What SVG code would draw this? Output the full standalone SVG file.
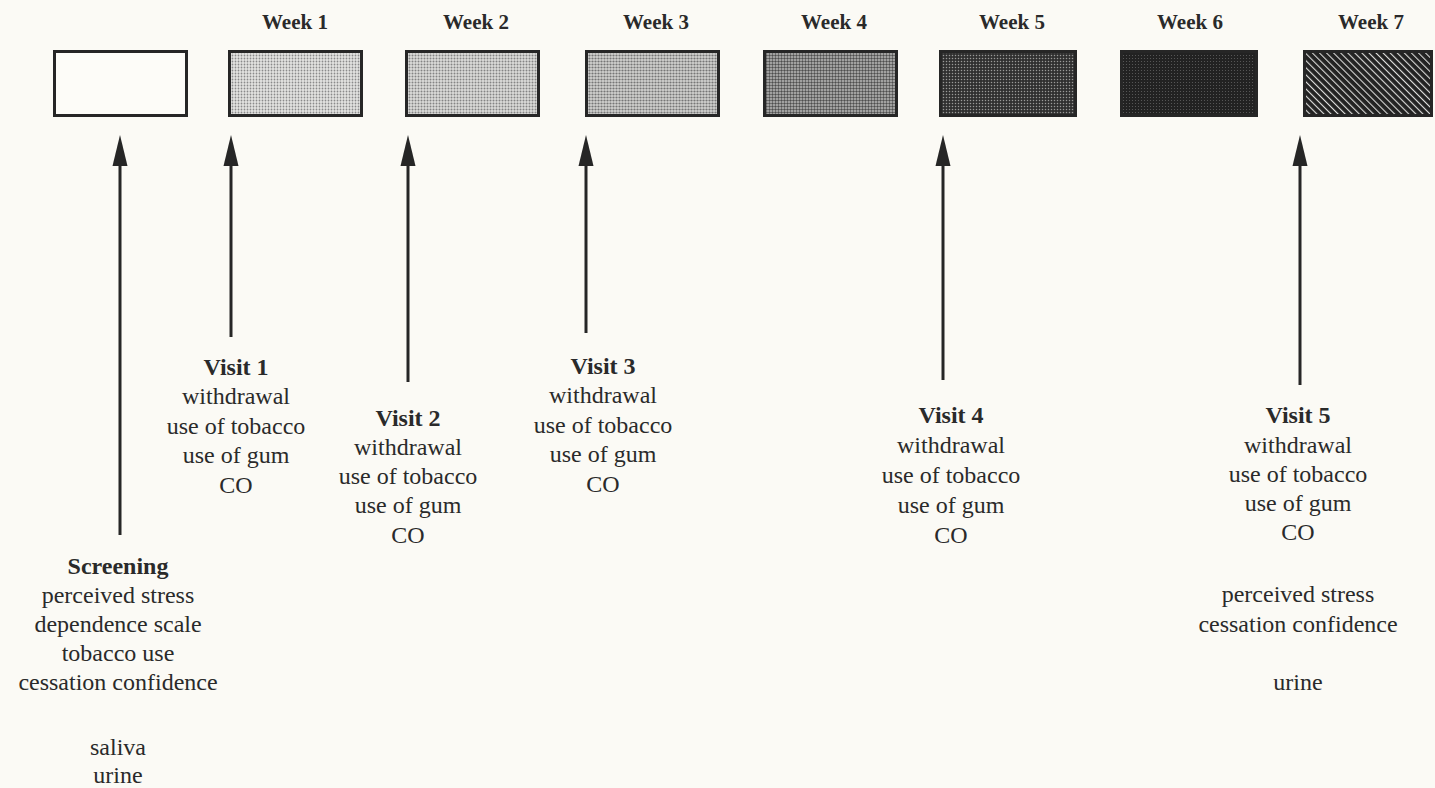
<svg xmlns="http://www.w3.org/2000/svg" width="1435" height="788" viewBox="0 0 1435 788">
<style>
.bx{stroke:#262626;stroke-width:3}
.wk{font-family:"Liberation Serif",serif;font-weight:bold;font-size:21px;fill:#2a2a2a;text-anchor:middle}
.t{font-family:"Liberation Serif",serif;font-size:24px;fill:#2a2a2a;text-anchor:middle}
.b{font-weight:bold}
.ar{stroke:#262626;stroke-width:3;fill:none;marker-end:url(#ah)}
</style>
<defs>
<marker id="ah" markerUnits="userSpaceOnUse" markerWidth="31" markerHeight="16" refX="0" refY="8" orient="auto" viewBox="0 0 31 16">
<path d="M0,0.5 L31,8 L0,15.5 z" fill="#262626"/>
</marker>
<pattern id="p1" width="3" height="3" patternUnits="userSpaceOnUse"><rect width="3" height="3" fill="#e4e4e2"/><circle cx="1.5" cy="1.5" r="0.9" fill="#8a8a8a"/></pattern>
<pattern id="p2" width="3" height="3" patternUnits="userSpaceOnUse"><rect width="3" height="3" fill="#dcdcda"/><circle cx="1.5" cy="1.5" r="1" fill="#848484"/></pattern>
<pattern id="p3" width="3" height="3" patternUnits="userSpaceOnUse"><rect width="3" height="3" fill="#d2d2d0"/><circle cx="1.5" cy="1.5" r="1.1" fill="#767676"/></pattern>
<pattern id="p4" width="3" height="3" patternUnits="userSpaceOnUse"><rect width="3" height="3" fill="#bdbdbb"/><circle cx="1.5" cy="1.5" r="1.2" fill="#4e4e4e"/></pattern>
<pattern id="p5" width="3" height="3" patternUnits="userSpaceOnUse"><rect width="3" height="3" fill="#303030"/><circle cx="1.5" cy="1.5" r="0.75" fill="#9a9a98"/></pattern>
<pattern id="p6" width="3" height="3" patternUnits="userSpaceOnUse"><rect width="3" height="3" fill="#222"/><circle cx="1.5" cy="1.5" r="0.55" fill="#5e5e5e"/></pattern>
<pattern id="p7" width="5" height="5" patternUnits="userSpaceOnUse" patternTransform="rotate(-45)"><rect width="5" height="5" fill="#222"/><rect x="0" y="0" width="1.1" height="5" fill="#dcdcda"/></pattern>
</defs>
<rect width="1435" height="788" fill="#fbfaf5"/>

<g id="week-labels">
<text class="wk" x="295" y="29">Week 1</text>
<text class="wk" x="476" y="29">Week 2</text>
<text class="wk" x="656" y="29">Week 3</text>
<text class="wk" x="834" y="29">Week 4</text>
<text class="wk" x="1012" y="29">Week 5</text>
<text class="wk" x="1190" y="29">Week 6</text>
<text class="wk" x="1371" y="29">Week 7</text>
</g>

<g id="box-screening"><rect class="bx" x="54.5" y="51.5" width="132" height="64" fill="#fdfcf8"/></g>
<g id="box-week1"><rect class="bx" x="229.5" y="51.5" width="132" height="64" fill="url(#p1)"/></g>
<g id="box-week2"><rect class="bx" x="406.5" y="51.5" width="132" height="64" fill="url(#p2)"/></g>
<g id="box-week3"><rect class="bx" x="586.5" y="51.5" width="132" height="64" fill="url(#p3)"/></g>
<g id="box-week4"><rect class="bx" x="764.5" y="51.5" width="132" height="64" fill="url(#p4)"/></g>
<g id="box-week5"><rect class="bx" x="940.5" y="51.5" width="135" height="64" fill="url(#p5)"/></g>
<g id="box-week6"><rect class="bx" x="1121.5" y="51.5" width="135" height="64" fill="url(#p6)"/></g>
<g id="box-week7"><rect class="bx" x="1304.5" y="51.5" width="127" height="64" fill="url(#p7)"/></g>

<g id="connectors">
<line class="ar" x1="120" y1="535" x2="120" y2="166"/>
<line class="ar" x1="231" y1="337" x2="231" y2="166"/>
<line class="ar" x1="408" y1="382" x2="408" y2="166"/>
<line class="ar" x1="586" y1="333" x2="586" y2="166"/>
<line class="ar" x1="943" y1="380" x2="943" y2="166"/>
<line class="ar" x1="1300" y1="385" x2="1300" y2="166"/>
</g>

<g id="screening">
<text class="t" x="118" y="574"><tspan class="b" x="118">Screening</tspan><tspan x="118" y="603">perceived stress</tspan><tspan x="118" y="632">dependence scale</tspan><tspan x="118" y="661">tobacco use</tspan><tspan x="118" y="690">cessation confidence</tspan><tspan x="118" y="755">saliva</tspan><tspan x="118" y="783">urine</tspan></text>
</g>
<g id="visit1">
<text class="t" x="236" y="375"><tspan class="b" x="236">Visit 1</tspan><tspan x="236" y="404">withdrawal</tspan><tspan x="236" y="434">use of tobacco</tspan><tspan x="236" y="463">use of gum</tspan><tspan x="236" y="493">CO</tspan></text>
</g>
<g id="visit2">
<text class="t" x="408" y="426"><tspan class="b" x="408">Visit 2</tspan><tspan x="408" y="455">withdrawal</tspan><tspan x="408" y="484">use of tobacco</tspan><tspan x="408" y="513">use of gum</tspan><tspan x="408" y="543">CO</tspan></text>
</g>
<g id="visit3">
<text class="t" x="603" y="374"><tspan class="b" x="603">Visit 3</tspan><tspan x="603" y="403">withdrawal</tspan><tspan x="603" y="433">use of tobacco</tspan><tspan x="603" y="462">use of gum</tspan><tspan x="603" y="492">CO</tspan></text>
</g>
<g id="visit4">
<text class="t" x="951" y="423"><tspan class="b" x="951">Visit 4</tspan><tspan x="951" y="453">withdrawal</tspan><tspan x="951" y="483">use of tobacco</tspan><tspan x="951" y="513">use of gum</tspan><tspan x="951" y="543">CO</tspan></text>
</g>
<g id="visit5">
<text class="t" x="1298" y="423"><tspan class="b" x="1298">Visit 5</tspan><tspan x="1298" y="453">withdrawal</tspan><tspan x="1298" y="482">use of tobacco</tspan><tspan x="1298" y="511">use of gum</tspan><tspan x="1298" y="540">CO</tspan><tspan x="1298" y="602">perceived stress</tspan><tspan x="1298" y="632">cessation confidence</tspan><tspan x="1298" y="690">urine</tspan></text>
</g>
</svg>
